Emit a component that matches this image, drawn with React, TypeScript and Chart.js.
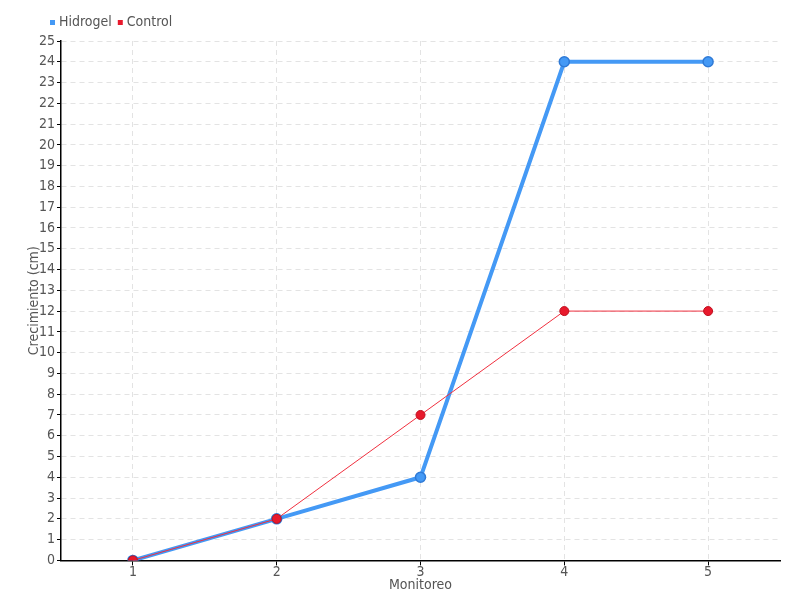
import React, { useEffect, useRef } from "react";
import { Chart, registerables } from "chart.js";
Chart.register(...registerables);

const categories = ["1", "2", "3", "4", "5"];
const hidrogel = [0, 2, 4, 24, 24];
const control = [0, 2, 7, 12, 12];

const FAMILY = "'DejaVu Sans Condensed', 'Liberation Sans Narrow', 'Roboto Condensed', 'DejaVu Sans', sans-serif";
const mkFont = (size: number) => ({ family: FAMILY, size, style: "condensed" as any });

const customLegend = {
  id: "customLegend",
  afterDraw(chart: any) {
    const ctx = chart.ctx;
    ctx.save();
    ctx.font = `condensed 14px ${FAMILY}`;
    ctx.textBaseline = "middle";
    ctx.textAlign = "left";
    let x = 50;
    chart.data.datasets.forEach((ds: any) => {
      ctx.fillStyle = ds.backgroundColor;
      ctx.fillRect(x, 20, 5, 5);
      x += 9;
      ctx.fillStyle = "#555";
      ctx.fillText(ds.label, x, 22);
      x += ctx.measureText(ds.label).width + 6;
    });
    ctx.restore();
  },
};

export default function App() {
  const ref = useRef<HTMLCanvasElement>(null);
  useEffect(() => {
    document.body.style.margin = "0";
    const chart = new Chart(ref.current!, {
      type: "line",
      data: {
        labels: categories,
        datasets: [
          {
            label: "Hidrogel",
            data: hidrogel,
            order: 2,
            borderColor: "#4499f5",
            backgroundColor: "#4499f5",
            borderWidth: 4,
            pointRadius: 5,
            pointBorderColor: "#2f7ad6",
            pointBackgroundColor: "#4499f5",
            pointBorderWidth: 1.5,
            tension: 0,
          },
          {
            label: "Control",
            data: control,
            order: 1,
            borderColor: "#f0303f",
            backgroundColor: "#e8192c",
            borderWidth: 1,
            pointRadius: 4.5,
            pointBorderColor: "#c0101f",
            pointBackgroundColor: "#e8192c",
            pointBorderWidth: 1,
            tension: 0,
          },
        ],
      },
      plugins: [customLegend],
      options: {
        responsive: false,
        animation: false,
        layout: { padding: { left: 26, right: 20, top: 41, bottom: 6 } },
        font: mkFont(14),
        plugins: {
          tooltip: { enabled: false },
          legend: { display: false },
        },
        scales: {
          x: {
            offset: true,
            title: {
              display: true,
              text: "Monitoreo",
              color: "#555",
              font: mkFont(14),
              padding: { top: -3, bottom: 0 },
            },
            grid: {
              color: "#e3e3e3",
              tickColor: "#000",
              tickLength: 5,
              offset: false,
            },
            border: { display: true, color: "#000", width: 1.5, dash: [5, 4] },
            ticks: { color: "#555", font: mkFont(14), padding: -1 },
          },
          y: {
            min: 0,
            max: 25,
            afterFit(scale: any) {
              scale.width = 35;
            },
            title: {
              display: true,
              text: "Crecimiento (cm)",
              color: "#555",
              font: mkFont(14),
              padding: 0,
            },
            grid: { color: "#e3e3e3", tickColor: "#000", tickLength: 4 },
            border: { display: true, color: "#000", width: 1.5, dash: [5, 4] },
            ticks: {
              stepSize: 1,
              color: "#555",
              font: mkFont(14),
              padding: 2,
              autoSkip: false,
            },
          },
        },
      },
    });
    return () => chart.destroy();
  }, []);
  return <canvas ref={ref} width={800} height={600} style={{ display: "block" }} />;
}
